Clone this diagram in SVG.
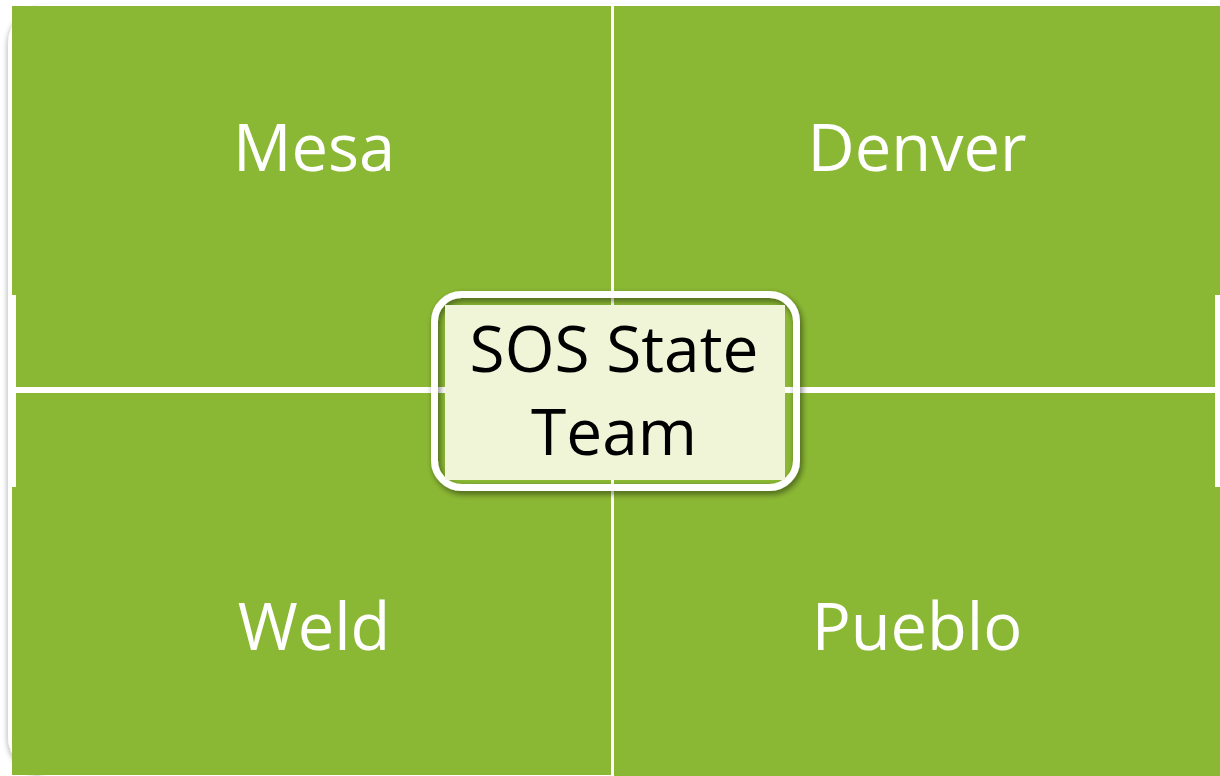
<svg xmlns="http://www.w3.org/2000/svg" width="1220" height="776" viewBox="0 0 1220 776">
  <defs>
    <style>
      .quad { fill: #8BB834; }
      .qlabel { font-family: "Open Sans", "Liberation Sans", sans-serif; font-size: 65px; fill: #FFFFFF; text-anchor: middle; }
      .clabel { font-family: "Open Sans", "Liberation Sans", sans-serif; font-size: 64px; fill: #000000; text-anchor: middle; }
    </style>
    <filter id="shadow" x="-10%" y="-10%" width="125%" height="130%">
      <feDropShadow dx="2" dy="3" stdDeviation="3" flood-color="#000000" flood-opacity="0.5"/>
    </filter>
    <filter id="bgshadow" x="-5%" y="-5%" width="110%" height="110%">
      <feDropShadow dx="-2" dy="2" stdDeviation="2" flood-color="#000000" flood-opacity="0.2"/>
    </filter>
  </defs>
  <rect width="1220" height="776" fill="#FFFFFF"/>
  <g id="background">
    <rect x="8" y="4" width="1240" height="772" rx="40" fill="#FFFFFF" filter="url(#bgshadow)"/>
  </g>
  <g id="mesa">
    <path class="quad" d="M12,6 H611 V387 H16 V295 H12 Z"/>
    <text class="qlabel" x="314" y="171">Mesa</text>
  </g>
  <g id="denver">
    <path class="quad" d="M614,6 H1220 V295 H1215 V387 H614 Z"/>
    <text class="qlabel" x="917" y="171">Denver</text>
  </g>
  <g id="weld">
    <path class="quad" d="M16,393 H611 V775 H12 V487 H16 Z"/>
    <text class="qlabel" x="314" y="650">Weld</text>
  </g>
  <g id="pueblo">
    <path class="quad" d="M614,393 H1215 V487 H1220 V776 H614 Z"/>
    <text class="qlabel" x="917" y="650">Pueblo</text>
  </g>
  <g id="connectors"/>
  <g id="sos-state-team">
    <rect x="434.5" y="294.5" width="362" height="193" rx="27" fill="none" stroke="#FFFFFF" stroke-width="7" filter="url(#shadow)"/>
    <rect x="445" y="305" width="340" height="175" fill="#F1F5D8"/>
    <text class="clabel" x="614" y="372">SOS State</text>
    <text class="clabel" x="614" y="455">Team</text>
  </g>
</svg>
